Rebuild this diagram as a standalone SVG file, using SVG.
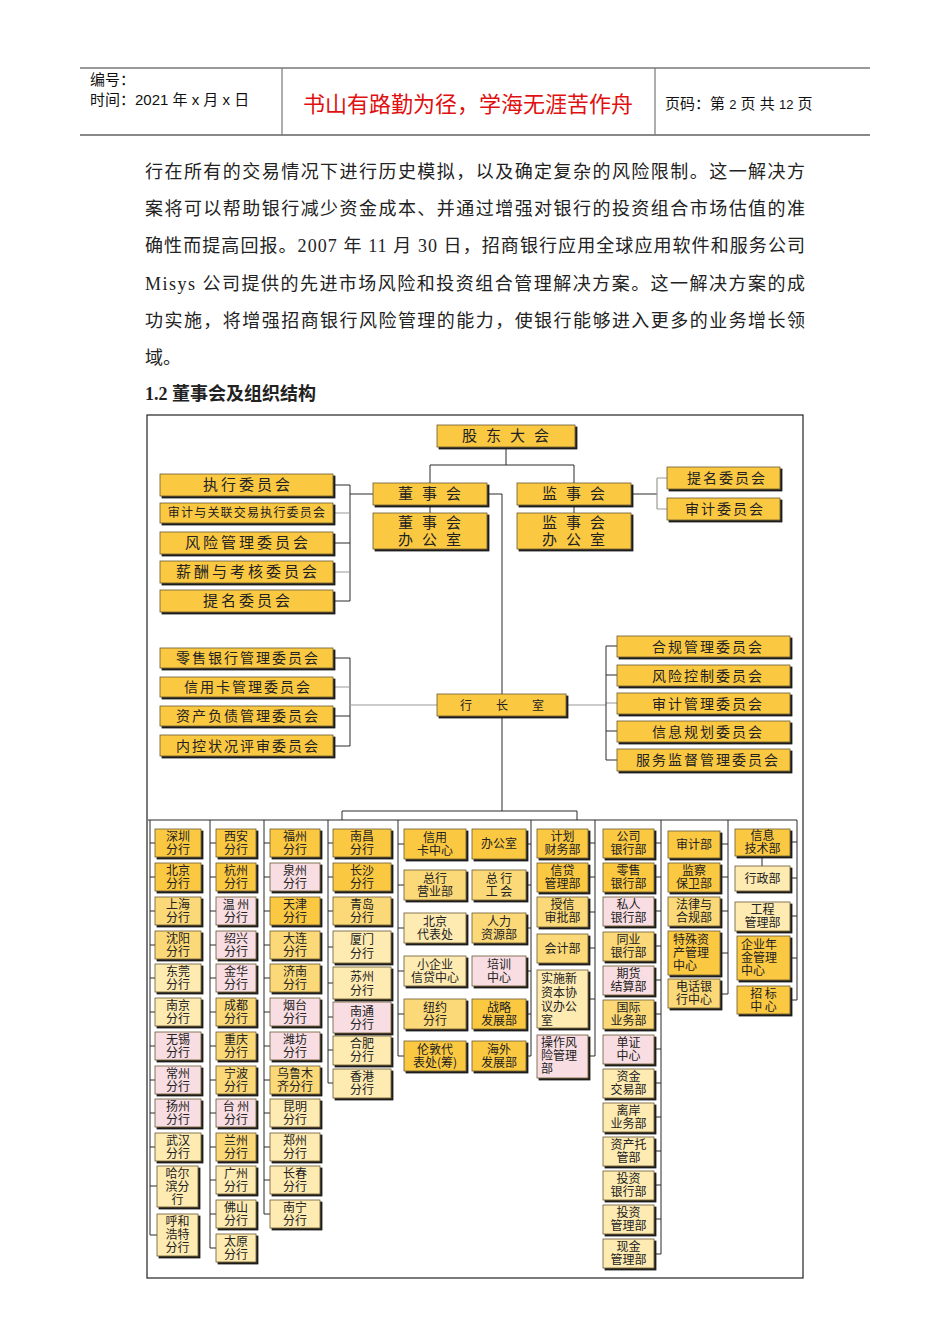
<svg xmlns="http://www.w3.org/2000/svg" width="950" height="1344" viewBox="0 0 950 1344">
<defs>
<filter id="sh" x="-10%" y="-10%" width="130%" height="140%">
<feFlood flood-color="#1e1e1e"/><feComposite in2="SourceAlpha" operator="in"/><feOffset dx="2" dy="2" result="s"/>
<feMerge><feMergeNode in="s"/><feMergeNode in="SourceGraphic"/></feMerge>
</filter>
</defs>
<style>
.b{stroke:#6a5a30;stroke-width:.8;filter:url(#sh)}
.y1{fill:#FBC843}.y2{fill:#FCD978}.y3{fill:#FEEBB2}.pk{fill:#F8DDE3}
.t{font-family:"Noto Sans CJK SC",sans-serif;font-size:12px;fill:#222;text-anchor:middle}
.tl{font-family:"Noto Sans CJK SC",sans-serif;font-size:12px;fill:#222}
.c{font-size:15px;letter-spacing:3px}
.cs{font-size:14px;letter-spacing:2px}
.top{font-size:15px;letter-spacing:9px}
.ln{stroke:#2a2a2a;stroke-width:1;fill:none}
.lg{stroke:#9a9a9a;stroke-width:1.2;fill:none}
.hd{font-family:"Liberation Sans","Noto Sans CJK SC",sans-serif;font-size:15px;fill:#111}
.bd{font-family:"Liberation Serif","Noto Sans CJK SC",serif;font-size:18px;fill:#222}
</style>
<rect width="950" height="1344" fill="#fff"/>
<g id="header">
<line x1="80" y1="68" x2="870" y2="68" stroke="#777" stroke-width="1.5"/>
<line x1="80" y1="135" x2="870" y2="135" stroke="#888" stroke-width="2"/>
<line x1="282" y1="68" x2="282" y2="135" stroke="#777" stroke-width="1.2"/>
<line x1="655" y1="68" x2="655" y2="135" stroke="#777" stroke-width="1.2"/>
<text class="hd" x="90" y="85">编号：</text>
<text class="hd" x="90" y="105">时间：2021 年 x 月 x 日</text>
<text x="468" y="112" font-family="Noto Sans CJK SC,sans-serif" font-size="22" fill="#e01010" text-anchor="middle">书山有路勤为径，学海无涯苦作舟</text>
<text class="hd" x="665" y="109" font-size="15.5">页码：第 <tspan font-size="13">2</tspan> 页  共 <tspan font-size="13">12</tspan> 页</text>
</g>
<g id="body-text">
<text class="bd" x="145" y="178" textLength="660" lengthAdjust="spacing">行在所有的交易情况下进行历史模拟，以及确定复杂的风险限制。这一解决方</text>
<text class="bd" x="145" y="215" textLength="660" lengthAdjust="spacing">案将可以帮助银行减少资金成本、并通过增强对银行的投资组合市场估值的准</text>
<text class="bd" x="145" y="252" textLength="660" lengthAdjust="spacing">确性而提高回报。2007 年 11 月 30 日，招商银行应用全球应用软件和服务公司</text>
<text class="bd" x="145" y="290" textLength="660" lengthAdjust="spacing">Misys 公司提供的先进市场风险和投资组合管理解决方案。这一解决方案的成</text>
<text class="bd" x="145" y="327" textLength="660" lengthAdjust="spacing">功实施，将增强招商银行风险管理的能力，使银行能够进入更多的业务增长领</text>
<text class="bd" x="145" y="364">域。</text>
<text class="bd" x="145" y="400" font-weight="bold">1.2 董事会及组织结构</text>
</g>
<rect id="frame" x="147" y="415" width="656" height="863" fill="none" stroke="#222" stroke-width="1.2"/>
<g id="connectors">
<path class="ln" d="M506 447V465M430 465H574M430 465V483M574 465V483M430 505V513M574 505V513"/>
<path class="ln" d="M350 485V601M333 485H350M333 543H350M333 601H350M350 494H373"/>
<path class="lg" d="M333 513H350M333 572H350"/>
<path class="ln" d="M631 494H657"/>
<path class="lg" d="M657 478V509M657 478H667M657 509H667"/>
<path class="ln" d="M487 494H502V811"/>
<path class="ln" d="M350 658V746M333 658H350M333 716H350M333 746H350"/>
<path class="lg" d="M333 687H350M350 705H437M566 705H606M606 703H617"/>
<path class="ln" d="M606 646V760M606 646H617M606 675H617M606 731H617M606 760H617"/>
<path class="ln" d="M342 811H577M342 811V820M577 811V820M148 820H797"/>
<path class="ln" d="M150 820V1235M150 843H155M150 877H155M150 911H155M150 945H155M150 978H155M150 1012H155M150 1046H155M150 1080H155M150 1113H155M150 1147H155M150 1186H157M150 1235H157"/>
<path class="ln" d="M210 820V1248M210 843H216M210 877H216M210 911H216M210 945H216M210 978H216M210 1012H216M210 1046H216M210 1080H216M210 1113H216M210 1147H216M210 1180H216M210 1214H216M210 1248H216"/>
<path class="ln" d="M264 820V1214M264 843H270M264 877H270M264 911H270M264 945H270M264 978H270M264 1012H270M264 1046H270M264 1080H270M264 1113H270M264 1147H270M264 1180H270M264 1214H270"/>
<path class="ln" d="M328 820V1083M328 843H333M328 877H333M328 911H333M328 947H333M328 983H333M328 1017H333M328 1050H333M328 1083H333"/>
<path class="ln" d="M398 820V1056M398 844H404M398 885H404M398 928H404M398 971H404M398 1014H404M398 1056H404"/>
<path class="ln" d="M531 820V1056M526 844H531M526 885H531M526 928H531M526 971H531M526 1014H531M526 1056H531"/>
<path class="ln" d="M595 820V1056M588 843H595M588 877H595M588 912H595M588 948H595M588 999H595M588 1056H595"/>
<path class="ln" d="M661 820V1254M654 843H661M654 877H661M654 911H661M654 946H661M654 980H661M654 1014H661M654 1049H661M654 1083H661M654 1117H661M654 1151H661M654 1185H661M654 1219H661M654 1254H661"/>
<path class="ln" d="M728 820V994M720 844H728M720 877H728M720 911H728M720 953H728M720 994H728"/>
<path class="ln" d="M797 820V1000M790 842H797M790 878H797M790 916H797M790 958H797M790 1000H797M762 856V866"/>
</g>
<g id="n-gudong"><rect class="b y1" x="437" y="425" width="138" height="22"/><text class="t top" x="510" y="441">股东大会</text></g>
<g id="n-dongshi"><rect class="b y1" x="373" y="483" width="114" height="22"/><text class="t top" x="434" y="499">董事会</text></g>
<g id="n-jianshi"><rect class="b y1" x="517" y="483" width="114" height="22"/><text class="t top" x="578" y="499">监事会</text></g>
<g id="n-dsban"><rect class="b y1" x="373" y="513" width="114" height="36"/><text class="t top" x="434" y="528">董事会<tspan x="434" y="545">办公室</tspan></text></g>
<g id="n-jsban"><rect class="b y1" x="517" y="513" width="114" height="36"/><text class="t top" x="578" y="528">监事会<tspan x="578" y="545">办公室</tspan></text></g>
<g id="n-zhixing"><rect class="b y1" x="160" y="474" width="173" height="22"/><text class="t c" x="248" y="490">执行委员会</text></g>
<g id="n-shenji-gl"><rect class="b y1" x="160" y="503" width="173" height="20"/><text class="t" x="247" y="517" font-size="12.5" letter-spacing="1.2">审计与关联交易执行委员会</text></g>
<g id="n-fengxian"><rect class="b y1" x="160" y="532" width="173" height="22"/><text class="t c" x="248" y="548">风险管理委员会</text></g>
<g id="n-xinchou"><rect class="b y1" x="160" y="561" width="173" height="22"/><text class="t c" x="248" y="577">薪酬与考核委员会</text></g>
<g id="n-timing1"><rect class="b y1" x="160" y="590" width="173" height="22"/><text class="t c" x="248" y="606">提名委员会</text></g>
<g id="n-timing2"><rect class="b y1" x="667" y="467" width="113" height="22"/><text class="t cs" x="727" y="483">提名委员会</text></g>
<g id="n-shenji2"><rect class="b y1" x="667" y="498" width="113" height="22"/><text class="t cs" x="725" y="514">审计委员会</text></g>
<g id="n-hangzhang"><rect class="b y1" x="437" y="694" width="129" height="22"/><text class="t" x="502" y="710" font-size="15">行　　长　　室</text></g>
<g id="n-lingshou"><rect class="b y1" x="160" y="648" width="173" height="20"/><text class="t cs" x="248" y="663">零售银行管理委员会</text></g>
<g id="n-xinyongka"><rect class="b y1" x="160" y="677" width="173" height="20"/><text class="t cs" x="248" y="692">信用卡管理委员会</text></g>
<g id="n-zichan"><rect class="b y1" x="160" y="706" width="173" height="20"/><text class="t cs" x="248" y="721">资产负债管理委员会</text></g>
<g id="n-neikong"><rect class="b y1" x="160" y="735" width="173" height="21"/><text class="t cs" x="248" y="751">内控状况评审委员会</text></g>
<g id="n-hegui"><rect class="b y1" x="617" y="636" width="173" height="21"/><text class="t cs" x="708" y="652">合规管理委员会</text></g>
<g id="n-fxkz"><rect class="b y1" x="617" y="665" width="173" height="21"/><text class="t cs" x="708" y="681">风险控制委员会</text></g>
<g id="n-sjgl"><rect class="b y1" x="617" y="693" width="173" height="21"/><text class="t cs" x="708" y="709">审计管理委员会</text></g>
<g id="n-xxgh"><rect class="b y1" x="617" y="721" width="173" height="21"/><text class="t cs" x="708" y="737">信息规划委员会</text></g>
<g id="n-fwjd"><rect class="b y1" x="617" y="749" width="173" height="22"/><text class="t cs" x="708" y="765">服务监督管理委员会</text></g>
<g id="c1-shenzhen"><rect class="b y1" x="155" y="829" width="46" height="28"/><text class="t" x="178" y="841">深圳<tspan x="178" y="854">分行</tspan></text></g>
<g id="c1-beijing"><rect class="b y1" x="155" y="863" width="46" height="28"/><text class="t" x="178" y="875">北京<tspan x="178" y="888">分行</tspan></text></g>
<g id="c1-shanghai"><rect class="b y2" x="155" y="897" width="46" height="28"/><text class="t" x="178" y="909">上海<tspan x="178" y="922">分行</tspan></text></g>
<g id="c1-shenyang"><rect class="b y2" x="155" y="931" width="46" height="28"/><text class="t" x="178" y="943">沈阳<tspan x="178" y="956">分行</tspan></text></g>
<g id="c1-dongguan"><rect class="b y3" x="155" y="964" width="46" height="28"/><text class="t" x="178" y="976">东莞<tspan x="178" y="989">分行</tspan></text></g>
<g id="c1-nanjing"><rect class="b y3" x="155" y="998" width="46" height="28"/><text class="t" x="178" y="1010">南京<tspan x="178" y="1023">分行</tspan></text></g>
<g id="c1-wuxi"><rect class="b pk" x="155" y="1032" width="46" height="28"/><text class="t" x="178" y="1044">无锡<tspan x="178" y="1057">分行</tspan></text></g>
<g id="c1-changzhou"><rect class="b pk" x="155" y="1066" width="46" height="28"/><text class="t" x="178" y="1078">常州<tspan x="178" y="1091">分行</tspan></text></g>
<g id="c1-yangzhou"><rect class="b pk" x="155" y="1099" width="46" height="28"/><text class="t" x="178" y="1111">扬州<tspan x="178" y="1124">分行</tspan></text></g>
<g id="c1-wuhan"><rect class="b y3" x="155" y="1133" width="46" height="28"/><text class="t" x="178" y="1145">武汉<tspan x="178" y="1158">分行</tspan></text></g>
<g id="c1-haerbin"><rect class="b y3" x="157" y="1166" width="41" height="41"/><text class="t" x="177.5" y="1178">哈尔<tspan x="177.5" y="1191">滨分</tspan><tspan x="177.5" y="1204">行</tspan></text></g>
<g id="c1-huhehaote"><rect class="b y3" x="157" y="1214" width="41" height="42"/><text class="t" x="177.5" y="1226">呼和<tspan x="177.5" y="1239">浩特</tspan><tspan x="177.5" y="1252">分行</tspan></text></g>
<g id="c2-xian"><rect class="b y1" x="216" y="829" width="40" height="28"/><text class="t" x="236" y="841">西安<tspan x="236" y="854">分行</tspan></text></g>
<g id="c2-hangzhou"><rect class="b y1" x="216" y="863" width="40" height="28"/><text class="t" x="236" y="875">杭州<tspan x="236" y="888">分行</tspan></text></g>
<g id="c2-wenzhou"><rect class="b pk" x="216" y="897" width="40" height="28"/><text class="t" x="236" y="909">温 州<tspan x="236" y="922">分行</tspan></text></g>
<g id="c2-shaoxing"><rect class="b pk" x="216" y="931" width="40" height="28"/><text class="t" x="236" y="943">绍兴<tspan x="236" y="956">分行</tspan></text></g>
<g id="c2-jinhua"><rect class="b pk" x="216" y="964" width="40" height="28"/><text class="t" x="236" y="976">金华<tspan x="236" y="989">分行</tspan></text></g>
<g id="c2-chengdu"><rect class="b y2" x="216" y="998" width="40" height="28"/><text class="t" x="236" y="1010">成都<tspan x="236" y="1023">分行</tspan></text></g>
<g id="c2-chongqing"><rect class="b y2" x="216" y="1032" width="40" height="28"/><text class="t" x="236" y="1044">重庆<tspan x="236" y="1057">分行</tspan></text></g>
<g id="c2-ningbo"><rect class="b y2" x="216" y="1066" width="40" height="28"/><text class="t" x="236" y="1078">宁波<tspan x="236" y="1091">分行</tspan></text></g>
<g id="c2-taizhou"><rect class="b pk" x="216" y="1099" width="40" height="28"/><text class="t" x="236" y="1111">台 州<tspan x="236" y="1124">分行</tspan></text></g>
<g id="c2-lanzhou"><rect class="b y2" x="216" y="1133" width="40" height="28"/><text class="t" x="236" y="1145">兰州<tspan x="236" y="1158">分行</tspan></text></g>
<g id="c2-guangzhou"><rect class="b y3" x="216" y="1166" width="40" height="28"/><text class="t" x="236" y="1178">广州<tspan x="236" y="1191">分行</tspan></text></g>
<g id="c2-foshan"><rect class="b y3" x="216" y="1200" width="40" height="28"/><text class="t" x="236" y="1212">佛山<tspan x="236" y="1225">分行</tspan></text></g>
<g id="c2-taiyuan"><rect class="b y3" x="216" y="1234" width="40" height="28"/><text class="t" x="236" y="1246">太原<tspan x="236" y="1259">分行</tspan></text></g>
<g id="c3-fuzhou"><rect class="b y1" x="270" y="829" width="50" height="28"/><text class="t" x="295" y="841">福州<tspan x="295" y="854">分行</tspan></text></g>
<g id="c3-quanzhou"><rect class="b pk" x="270" y="863" width="50" height="28"/><text class="t" x="295" y="875">泉州<tspan x="295" y="888">分行</tspan></text></g>
<g id="c3-tianjin"><rect class="b y1" x="270" y="897" width="50" height="28"/><text class="t" x="295" y="909">天津<tspan x="295" y="922">分行</tspan></text></g>
<g id="c3-dalian"><rect class="b y2" x="270" y="931" width="50" height="28"/><text class="t" x="295" y="943">大连<tspan x="295" y="956">分行</tspan></text></g>
<g id="c3-jinan"><rect class="b y2" x="270" y="964" width="50" height="28"/><text class="t" x="295" y="976">济南<tspan x="295" y="989">分行</tspan></text></g>
<g id="c3-yantai"><rect class="b pk" x="270" y="998" width="50" height="28"/><text class="t" x="295" y="1010">烟台<tspan x="295" y="1023">分行</tspan></text></g>
<g id="c3-weifang"><rect class="b pk" x="270" y="1032" width="50" height="28"/><text class="t" x="295" y="1044">潍坊<tspan x="295" y="1057">分行</tspan></text></g>
<g id="c3-wulumuqi"><rect class="b y2" x="270" y="1066" width="50" height="28"/><text class="t" x="295" y="1078">乌鲁木<tspan x="295" y="1091">齐分行</tspan></text></g>
<g id="c3-kunming"><rect class="b y3" x="270" y="1099" width="50" height="28"/><text class="t" x="295" y="1111">昆明<tspan x="295" y="1124">分行</tspan></text></g>
<g id="c3-zhengzhou"><rect class="b y3" x="270" y="1133" width="50" height="28"/><text class="t" x="295" y="1145">郑州<tspan x="295" y="1158">分行</tspan></text></g>
<g id="c3-changchun"><rect class="b y3" x="270" y="1166" width="50" height="28"/><text class="t" x="295" y="1178">长春<tspan x="295" y="1191">分行</tspan></text></g>
<g id="c3-nanning"><rect class="b y3" x="270" y="1200" width="50" height="28"/><text class="t" x="295" y="1212">南宁<tspan x="295" y="1225">分行</tspan></text></g>
<g id="c4-nanchang"><rect class="b y1" x="333" y="829" width="58" height="28"/><text class="t" x="362" y="841">南昌<tspan x="362" y="854">分行</tspan></text></g>
<g id="c4-changsha"><rect class="b y1" x="333" y="863" width="58" height="28"/><text class="t" x="362" y="875">长沙<tspan x="362" y="888">分行</tspan></text></g>
<g id="c4-qingdao"><rect class="b y2" x="333" y="897" width="58" height="28"/><text class="t" x="362" y="909">青岛<tspan x="362" y="922">分行</tspan></text></g>
<g id="c4-xiamen"><rect class="b y3" x="333" y="931" width="58" height="32"/><text class="t" x="362" y="944">厦门<tspan x="362" y="958">分行</tspan></text></g>
<g id="c4-suzhou"><rect class="b y3" x="333" y="967" width="58" height="32"/><text class="t" x="362" y="981">苏州<tspan x="362" y="995">分行</tspan></text></g>
<g id="c4-nantong"><rect class="b pk" x="333" y="1002" width="58" height="31"/><text class="t" x="362" y="1016">南通<tspan x="362" y="1029">分行</tspan></text></g>
<g id="c4-hefei"><rect class="b y3" x="333" y="1036" width="58" height="29"/><text class="t" x="362" y="1048">合肥<tspan x="362" y="1061">分行</tspan></text></g>
<g id="c4-xianggang"><rect class="b y3" x="333" y="1069" width="58" height="29"/><text class="t" x="362" y="1081">香港<tspan x="362" y="1094">分行</tspan></text></g>
<g id="c5-xinyongka"><rect class="b y1" x="404" y="829" width="62" height="30"/><text class="t" x="435" y="842">信用<tspan x="435" y="855">卡中心</tspan></text></g>
<g id="c5-yingye"><rect class="b y2" x="404" y="870" width="62" height="30"/><text class="t" x="435" y="883">总行<tspan x="435" y="896">营业部</tspan></text></g>
<g id="c5-bjdb"><rect class="b y3" x="404" y="913" width="62" height="30"/><text class="t" x="435" y="926">北京<tspan x="435" y="939">代表处</tspan></text></g>
<g id="c5-xiaoqiye"><rect class="b y3" x="404" y="956" width="62" height="30"/><text class="t" x="435" y="969">小企业<tspan x="435" y="982">信贷中心</tspan></text></g>
<g id="c5-niuyue"><rect class="b y2" x="404" y="999" width="62" height="30"/><text class="t" x="435" y="1012">纽约<tspan x="435" y="1025">分行</tspan></text></g>
<g id="c5-lundun"><rect class="b y1" x="404" y="1041" width="62" height="30"/><text class="t" x="435" y="1054">伦敦代<tspan x="435" y="1067">表处(筹)</tspan></text></g>
<g id="c5-bangong"><rect class="b y1" x="472" y="829" width="54" height="30"/><text class="t" x="499" y="848">办公室</text></g>
<g id="c5-gonghui"><rect class="b y2" x="472" y="870" width="54" height="30"/><text class="t" x="499" y="883">总 行<tspan x="499" y="896">工 会</tspan></text></g>
<g id="c5-renli"><rect class="b y2" x="472" y="913" width="54" height="30"/><text class="t" x="499" y="926">人力<tspan x="499" y="939">资源部</tspan></text></g>
<g id="c5-peixun"><rect class="b pk" x="472" y="956" width="54" height="30"/><text class="t" x="499" y="969">培训<tspan x="499" y="982">中心</tspan></text></g>
<g id="c5-zhanlue"><rect class="b y1" x="472" y="999" width="54" height="30"/><text class="t" x="499" y="1012">战略<tspan x="499" y="1025">发展部</tspan></text></g>
<g id="c5-haiwai"><rect class="b y1" x="472" y="1041" width="54" height="30"/><text class="t" x="499" y="1054">海外<tspan x="499" y="1067">发展部</tspan></text></g>
<g id="c6-jihua"><rect class="b y1" x="537" y="829" width="51" height="29"/><text class="t" x="562.5" y="841">计划<tspan x="562.5" y="854">财务部</tspan></text></g>
<g id="c6-xindai"><rect class="b y1" x="537" y="863" width="51" height="29"/><text class="t" x="562.5" y="875">信贷<tspan x="562.5" y="888">管理部</tspan></text></g>
<g id="c6-shouxin"><rect class="b y2" x="537" y="897" width="51" height="30"/><text class="t" x="562.5" y="909">授信<tspan x="562.5" y="922">审批部</tspan></text></g>
<g id="c6-kuaiji"><rect class="b y2" x="537" y="934" width="51" height="29"/><text class="t" x="562.5" y="953">会计部</text></g>
<g id="c6-xinziben"><rect class="b y3" x="537" y="970" width="51" height="58"/><text class="tl" x="541" y="983">实施新<tspan x="541" y="997">资本协</tspan><tspan x="541" y="1011">议办公</tspan><tspan x="541" y="1025">室</tspan></text></g>
<g id="c6-caozuo"><rect class="b pk" x="537" y="1035" width="51" height="43"/><text class="tl" x="541" y="1047">操作风<tspan x="541" y="1060">险管理</tspan><tspan x="541" y="1073">部</tspan></text></g>
<g id="c7-gongsi"><rect class="b y1" x="603" y="829" width="51" height="29"/><text class="t" x="628.5" y="841">公司<tspan x="628.5" y="854">银行部</tspan></text></g>
<g id="c7-lingshou"><rect class="b y1" x="603" y="863" width="51" height="29"/><text class="t" x="628.5" y="875">零售<tspan x="628.5" y="888">银行部</tspan></text></g>
<g id="c7-siren"><rect class="b pk" x="603" y="897" width="51" height="29"/><text class="t" x="628.5" y="909">私人<tspan x="628.5" y="922">银行部</tspan></text></g>
<g id="c7-tongye"><rect class="b y2" x="603" y="932" width="51" height="29"/><text class="t" x="628.5" y="944">同业<tspan x="628.5" y="957">银行部</tspan></text></g>
<g id="c7-qihuo"><rect class="b pk" x="603" y="966" width="51" height="29"/><text class="t" x="628.5" y="978">期货<tspan x="628.5" y="991">结算部</tspan></text></g>
<g id="c7-guoji"><rect class="b y2" x="603" y="1000" width="51" height="29"/><text class="t" x="628.5" y="1012">国际<tspan x="628.5" y="1025">业务部</tspan></text></g>
<g id="c7-danzheng"><rect class="b pk" x="603" y="1035" width="51" height="29"/><text class="t" x="628.5" y="1047">单证<tspan x="628.5" y="1060">中心</tspan></text></g>
<g id="c7-zijin"><rect class="b y3" x="603" y="1069" width="51" height="29"/><text class="t" x="628.5" y="1081">资金<tspan x="628.5" y="1094">交易部</tspan></text></g>
<g id="c7-lian"><rect class="b y3" x="603" y="1103" width="51" height="29"/><text class="t" x="628.5" y="1115">离岸<tspan x="628.5" y="1128">业务部</tspan></text></g>
<g id="c7-tuoguan"><rect class="b y3" x="603" y="1137" width="51" height="29"/><text class="t" x="628.5" y="1149">资产托<tspan x="628.5" y="1162">管部</tspan></text></g>
<g id="c7-touyin"><rect class="b y3" x="603" y="1171" width="51" height="29"/><text class="t" x="628.5" y="1183">投资<tspan x="628.5" y="1196">银行部</tspan></text></g>
<g id="c7-touguan"><rect class="b y3" x="603" y="1205" width="51" height="29"/><text class="t" x="628.5" y="1217">投资<tspan x="628.5" y="1230">管理部</tspan></text></g>
<g id="c7-xianjin"><rect class="b y3" x="603" y="1239" width="51" height="29"/><text class="t" x="628.5" y="1251">现金<tspan x="628.5" y="1264">管理部</tspan></text></g>
<g id="c8-shenji"><rect class="b y1" x="668" y="831" width="52" height="27"/><text class="t" x="694" y="849">审计部</text></g>
<g id="c8-jiancha"><rect class="b y1" x="668" y="863" width="52" height="29"/><text class="t" x="694" y="875">监察<tspan x="694" y="888">保卫部</tspan></text></g>
<g id="c8-falv"><rect class="b y2" x="668" y="897" width="52" height="29"/><text class="t" x="694" y="909">法律与<tspan x="694" y="922">合规部</tspan></text></g>
<g id="c8-teshu"><rect class="b y1" x="668" y="931" width="52" height="44"/><text class="tl" x="673" y="944">特殊资<tspan x="673" y="957">产管理</tspan><tspan x="673" y="970">中心</tspan></text></g>
<g id="c8-dianhua"><rect class="b y2" x="668" y="979" width="52" height="29"/><text class="t" x="694" y="991">电话银<tspan x="694" y="1004">行中心</tspan></text></g>
<g id="c9-xinxi"><rect class="b y1" x="735" y="829" width="55" height="27"/><text class="t" x="762.5" y="840">信息<tspan x="762.5" y="853">技术部</tspan></text></g>
<g id="c9-xingzheng"><rect class="b y3" x="735" y="866" width="55" height="25"/><text class="t" x="762.5" y="883">行政部</text></g>
<g id="c9-gongcheng"><rect class="b y3" x="735" y="902" width="55" height="29"/><text class="t" x="762.5" y="914">工程<tspan x="762.5" y="927">管理部</tspan></text></g>
<g id="c9-nianjin"><rect class="b y1" x="737" y="936" width="53" height="44"/><text class="tl" x="741" y="949">企业年<tspan x="741" y="962">金管理</tspan><tspan x="741" y="975">中心</tspan></text></g>
<g id="c9-zhaobiao"><rect class="b y1" x="737" y="986" width="53" height="28"/><text class="t" x="763.5" y="998">招 标<tspan x="763.5" y="1011">中 心</tspan></text></g>
</svg>
